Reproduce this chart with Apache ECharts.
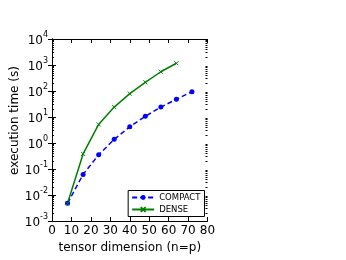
<!DOCTYPE html>
<html><head><meta charset="utf-8">
<script src="https://cdn.jsdelivr.net/npm/echarts@6/dist/echarts.min.js"></script>
<style>html,body{margin:0;padding:0;background:#fff}#c{width:346px;height:260px}</style>
</head><body><div id="c"></div>
<script>
const xDim = [8, 16, 24, 32, 40, 48, 56, 64, 72];
const compact = [0.0048, 0.062, 0.35, 1.38, 4.2, 10.6, 24, 48, 94];
const denseX = [8, 16, 24, 32, 40, 48, 56, 64];
const dense = [0.0048, 0.38, 5.2, 24, 79, 215, 550, 1170];
const xTicks = [0, 10, 20, 30, 40, 50, 60, 70, 80];
const yExp = [-3, -2, -1, 0, 1, 2, 3, 4];

const majors = yExp.map(e => Math.pow(10, e));
const minors = [];
for (let e = -3; e < 4; e++) for (let m = 2; m <= 9; m++) minors.push(m * Math.pow(10, e));

const F = 'DejaVu Sans';
const rect = {left: 52, top: 39, width: 155.5, height: 182};
const supLabel = {
  fontFamily: F, color: '#000', margin: 4,
  formatter: v => { const e = Math.round(Math.log10(v)); return '{b|10}{s|' + (e < 0 ? '-' + (-e) : e) + '}'; },
  rich: {
    b: {fontFamily: F, fontSize: 12, lineHeight: 16, verticalAlign: 'bottom', color: '#000'},
    s: {fontFamily: F, fontSize: 8, lineHeight: 16, verticalAlign: 'top', color: '#000'}
  }
};
const yBase = {type: 'log', logBase: 10, min: 0.001, max: 10000, splitLine: {show: false}};
const chart = echarts.init(document.getElementById('c'));
chart.setOption({
  animation: false,
  grid: [Object.assign({}, rect), Object.assign({}, rect)],
  xAxis: [
    {type: 'value', gridIndex: 0, min: xTicks[0], max: xTicks[xTicks.length - 1], interval: 10, position: 'bottom',
     axisLine: {lineStyle: {color: '#000', width: 1}},
     axisTick: {inside: true, length: 4, lineStyle: {color: '#000'}},
     axisLabel: {fontFamily: F, fontSize: 12, color: '#000', margin: 4},
     splitLine: {show: false},
     name: 'tensor dimension (n=p)', nameLocation: 'middle', nameGap: 18,
     nameTextStyle: {fontFamily: F, fontSize: 12, color: '#000'}},
    {type: 'value', gridIndex: 0, min: xTicks[0], max: xTicks[xTicks.length - 1], interval: 10, position: 'top',
     axisLine: {lineStyle: {color: '#000', width: 1}},
     axisTick: {inside: true, length: 4, lineStyle: {color: '#000'}},
     axisLabel: {show: false}, splitLine: {show: false}},
    {type: 'value', gridIndex: 1, min: 0, max: 80, show: false}
  ],
  yAxis: [
    Object.assign({}, yBase, {gridIndex: 0, position: 'left',
      axisLine: {show: true, lineStyle: {color: '#000', width: 1}},
      axisTick: {show: true, inside: true, length: 4, customValues: majors, lineStyle: {color: '#000'}},
      axisLabel: Object.assign({customValues: majors}, supLabel),
      name: 'execution time (s)', nameLocation: 'middle', nameGap: 22,
      nameTextStyle: {fontFamily: F, fontSize: 12, color: '#000', padding: [0, 0, 0, 19]}}),
    Object.assign({}, yBase, {gridIndex: 0, position: 'right',
      axisLine: {show: true, lineStyle: {color: '#000', width: 1}},
      axisTick: {show: true, inside: true, length: 4, customValues: majors, lineStyle: {color: '#000'}},
      axisLabel: {show: false}}),
    Object.assign({}, yBase, {gridIndex: 1, position: 'left',
      axisLine: {show: false},
      axisTick: {show: true, inside: true, length: 2, customValues: minors, lineStyle: {color: '#000'}},
      axisLabel: {show: false}}),
    Object.assign({}, yBase, {gridIndex: 1, position: 'right',
      axisLine: {show: false},
      axisTick: {show: true, inside: true, length: 2, customValues: minors, lineStyle: {color: '#000'}},
      axisLabel: {show: false}})
  ],
  legend: {
    right: 141.5, bottom: 43.5, orient: 'vertical', itemGap: 2,
    borderColor: '#000', borderWidth: 1, borderRadius: 0, padding: [2, 4, 2, 3],
    itemWidth: 22, itemHeight: 6,
    textStyle: {fontFamily: F, fontSize: 8.5, lineHeight: 10, color: '#000'},
    data: ['COMPACT', 'DENSE']
  },
  series: [
    {name: 'COMPACT', type: 'line', xAxisIndex: 0, yAxisIndex: 0, data: xDim.map((x, i) => [x, compact[i]]),
     lineStyle: {color: '#0000ff', width: 1.5, type: [5, 3]},
     itemStyle: {color: '#0000ff'}, symbol: 'circle', symbolSize: 5, showSymbol: true},
    {name: 'DENSE', type: 'line', xAxisIndex: 0, yAxisIndex: 0, data: denseX.map((x, i) => [x, dense[i]]),
     lineStyle: {color: '#008000', width: 1.5},
     itemStyle: {color: 'rgba(0,0,0,0)', borderColor: '#008000', borderWidth: 1},
     symbol: 'path://M0,0L10,10M10,0L0,10', symbolSize: 4, showSymbol: true}
  ]
});
</script></body></html>
